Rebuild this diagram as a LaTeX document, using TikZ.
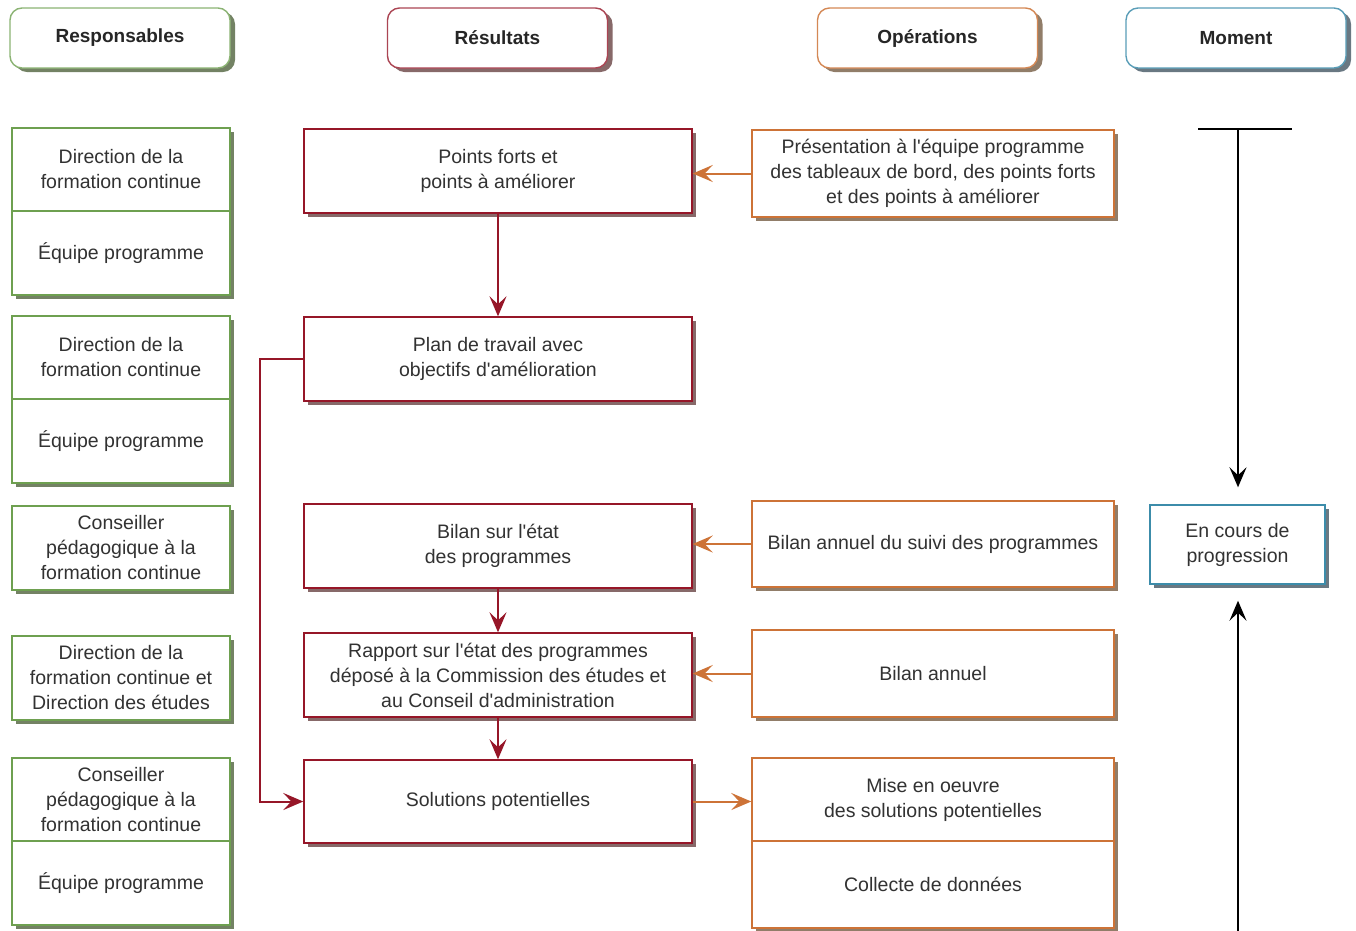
\documentclass[tikz,border=0pt]{standalone}
\usepackage{fontspec}
\setmainfont{Liberation Sans}
\newfontfamily\mf{Liberation Sans}
\usetikzlibrary{arrows.meta,shadows}
\definecolor{grn}{RGB}{110,160,80}
\definecolor{grnsh}{RGB}{115,130,100}
\definecolor{dred}{RGB}{150,22,40}
\definecolor{dredsh}{RGB}{135,105,105}
\definecolor{org}{RGB}{205,115,55}
\definecolor{orgsh}{RGB}{145,125,105}
\definecolor{teal}{RGB}{60,140,170}
\definecolor{tealsh}{RGB}{105,120,130}
\definecolor{txt}{RGB}{50,50,50}
\tikzset{
  base/.style={draw, fill=white, line width=1.4pt, align=center, text=txt,
    font=\mf\fontsize{19.5}{25}\selectfont, inner sep=2pt},
  hdr/.style={base, rounded corners=12pt, minimum width=220pt, minimum height=60pt,
    text=black!85, font=\mf\fontsize{19}{23}\selectfont\bfseries},
  gbox/.style={base, draw=grn, minimum width=218pt, drop shadow={shadow xshift=4pt, shadow yshift=-4pt, fill=grnsh, opacity=1}},
  rbox/.style={base, draw=dred, minimum width=388pt, minimum height=84pt, drop shadow={shadow xshift=4pt, shadow yshift=-4pt, fill=dredsh, opacity=1}},
  obox/.style={base, draw=org, minimum width=362pt, drop shadow={shadow xshift=4pt, shadow yshift=-4pt, fill=orgsh, opacity=1}},
  tbox/.style={base, draw=teal, minimum width=175pt, minimum height=79pt, drop shadow={shadow xshift=4pt, shadow yshift=-4pt, fill=tealsh, opacity=1}},
  tip/.style={-{Stealth[length=20pt,width=17pt,inset=8pt]}},
  redarr/.style={draw=dred, line width=2pt, tip},
  orgarr/.style={draw=org, line width=2pt, tip},
  blkarr/.style={draw=black, line width=2pt, tip},
}
\begin{document}
\begin{tikzpicture}[x=1pt,y=-1pt]
\useasboundingbox (0,0) rectangle (1356,930);
% headers
\node[hdr, draw=grn!80!white, drop shadow={shadow xshift=5pt, shadow yshift=-4pt, fill=grnsh, opacity=1}] (h1) at (120,38) {Responsables};
\node[hdr, draw=dred!80!white, drop shadow={shadow xshift=5pt, shadow yshift=-4pt, fill=dredsh, opacity=1}] (h2) at (497.5,38) {Résultats};
\node[hdr, draw=org!85!white, drop shadow={shadow xshift=5pt, shadow yshift=-4pt, fill=orgsh, opacity=1}] (h3) at (927.5,38) {Opérations};
\node[hdr, draw=teal!85!white, drop shadow={shadow xshift=5pt, shadow yshift=-4pt, fill=tealsh, opacity=1}] (h4) at (1236,38) {Moment};
% left column
\node[gbox, minimum height=83pt] (l1a) at (121,169.5) {Direction de la\\formation continue};
\node[gbox, minimum height=84pt] (l1b) at (121,253) {Équipe programme};
\node[gbox, minimum height=83pt] (l2a) at (121,357.5) {Direction de la\\formation continue};
\node[gbox, minimum height=84pt] (l2b) at (121,441) {Équipe programme};
\node[gbox, minimum height=84pt] (l3) at (121,548) {Conseiller\\pédagogique à la\\formation continue};
\node[gbox, minimum height=84pt] (l4) at (121,678) {Direction de la\\formation continue et\\Direction des études};
\node[gbox, minimum height=83pt] (l5a) at (121,799.5) {Conseiller\\pédagogique à la\\formation continue};
\node[gbox, minimum height=84pt] (l5b) at (121,883) {Équipe programme};
% middle column
\node[rbox] (m1) at (498,171) {Points forts et\\points à améliorer};
\node[rbox] (m2) at (498,359) {Plan de travail avec\\objectifs d'amélioration};
\node[rbox] (m3) at (498,546) {Bilan sur l'état\\des programmes};
\node[rbox] (m4) at (498,675) {Rapport sur l'état des programmes\\déposé à la Commission des études et\\au Conseil d'administration};
\node[rbox, minimum height=83pt] (m5) at (498,801.5) {Solutions potentielles};
% right column
\node[obox, minimum height=87pt] (r1) at (933,173.5) {Présentation à l'équipe programme\\des tableaux de bord, des points forts\\et des points à améliorer};
\node[obox, minimum height=86pt] (r2) at (933,544) {Bilan annuel du suivi des programmes};
\node[obox, minimum height=87pt] (r3) at (933,673.5) {Bilan annuel};
\node[obox, minimum height=83pt] (r4a) at (933,799.5) {Mise en oeuvre\\des solutions potentielles};
\node[obox, minimum height=87pt] (r4b) at (933,884.5) {Collecte de données};
% moment column
\node[tbox] (mo) at (1237.5,544.5) {En cours de\\progression};
\coordinate (tl) at (1198,129);
\coordinate (tr) at (1292,129);
\coordinate (ttop) at (1238,129);
\coordinate (tbot) at (1238,932);
% connectors
\draw[orgarr] (r1.west) -- (r1.west -| m1.east);
\draw[redarr] (m1.south) -- (m2.north);
\draw[redarr] (m2.west) -- ++(-43,0) |- (m5.west);
\draw[orgarr] (r2.west) -- (r2.west -| m3.east);
\draw[redarr] (m3.south) -- (m4.north);
\draw[orgarr] (r3.west) -- (r3.west -| m4.east);
\draw[redarr] (m4.south) -- (m5.north);
\draw[orgarr] (m5.east) -- (m5.east -| r4a.west);
\draw[line width=2pt] (tl) -- (tr);
\draw[blkarr, shorten >=17pt] (ttop) -- (ttop |- mo.north);
\draw[blkarr, shorten >=16pt] (tbot) -- (tbot |- mo.south);
\end{tikzpicture}
\end{document}
